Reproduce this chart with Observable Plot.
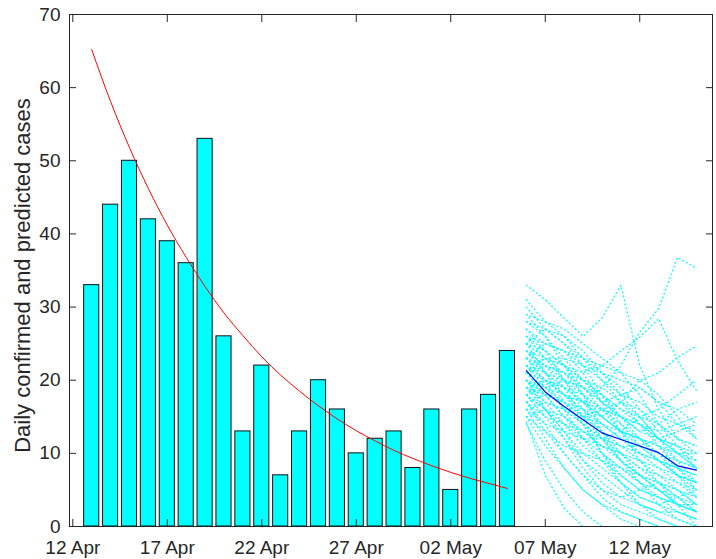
<!DOCTYPE html>
<html>
<head>
<meta charset="utf-8">
<script src="https://cdn.jsdelivr.net/npm/d3@7"></script>
<script src="https://cdn.jsdelivr.net/npm/@observablehq/plot@0.6"></script>
<style>
  html, body { margin: 0; padding: 0; background: white; }
  #chart { width: 716px; height: 559px; }
</style>
</head>
<body>
<div id="chart"></div>
<script>
// ---- data (days counted from 12 Apr) ----
const barDays = [1,2,3,4,5,6,7,8,9,10,11,12,13,14,15,16,17,18,19,20,21,22,23];
const confirmed = [33,44,50,42,39,36,53,26,13,22,7,13,20,16,10,12,13,8,16,5,16,18,24];
const fitted = [65.2,58.1,51.8,46.2,41.2,36.8,32.8,29.2,26.1,23.2,20.7,18.5,16.5,14.7,13.1,11.7,10.4,9.3,8.3,7.4,6.6,5.9,5.2];
const predDays = [24,25,26,27,28,29,30,31,32,33];
const predMean = [21.3,18.4,16.4,14.6,12.8,11.9,11.0,10.1,8.3,7.7];
const simRuns = [
  [33,31,28.5,26,28.5,33,22,16,12,10],
  [22,20,18,17,19,22,26.6,29.8,36.8,35.3],
  [26,24,22,21,22,24,25.9,28.4,22.7,18.6],
  [19,18,17,16,15,17,20,21,23.1,24.7],
  [14.3,7,2.5,0,0,0,0,0,0,0],
  [30,27,25,23,21,19,16,13,10,8],
  [28,26,23,20,17,15,13,12,10,9],
  [25,23,21,18,16,14,12,10,7,5],
  [24,22,20,19,18,16,15,14,12,11],
  [23,21,20,18,15,13,10,8,6,4],
  [22,19,17,15,13,11,9,7,5,3],
  [21,19,16,14,12,10,8,6,4,2],
  [20,18,15,12,10,8,6,4,2,1],
  [18,15,12,9,7,5,3,2,1,0],
  [17,13,10,7,5,3,2,1,0,0],
  [16,12,8,5,3,2,1,0,0,0],
  [19,17,16,15,14,13,12,11,9,8],
  [27,25,24,22,20,18,17,15,14,13],
  [20,19,18,17,16,15,14,12,11,10],
  [24,21,18,15,12,9,7,5,3,2],
  [22,21,19,18,16,15,14,13,14,15],
  [18,16,14,13,12,11,11,12,13,14],
  [26,23,20,17,15,13,12,11,10,10],
  [15,13,11,10,9,8,7,6,5,4],
  [21,18,15,13,11,10,9,8,7,6],
  [29,26,22,19,16,13,11,9,7,6],
  [17,15,14,12,11,10,8,7,6,5],
  [23,22,21,20,18,16,14,12,10,8],
  [20,17,14,11,9,7,5,4,3,3],
  [25,24,22,20,19,17,16,14,12,11],
  [19,16,13,10,8,6,4,3,2,1],
  [22,20,19,17,15,13,12,10,8,6],
  [16,14,13,12,12,11,10,9,8,7],
  [24,22,19,17,14,12,10,9,7,6],
  [21,20,18,16,14,12,11,10,9,8],
  [14,9,5,2,0,0,0,0,0,0],
  [15,11,8,5,3,1,0,0,0,0],
  [17,14,10,7,4,2,1,0,0,0],
  [18,16,13,9,6,4,3,2,2,1],
  [20,16,12,8,5,4,5,6,4,2],
  [23,20,16,12,9,6,4,3,4,5],
  [25,21,17,14,10,8,6,5,3,2],
  [27,24,20,16,12,9,7,6,5,3],
  [31,28,26,23,20,17,14,11,8,5],
  [29,28,27,25,23,21,18,14,11,8],
  [26,25,24,23,22,21,20,18,15,12],
  [24,23,23,22,21,20,19,17,16,14],
  [21,22,21,19,17,18,19,17,14,12],
  [18,19,20,19,17,15,13,14,16,17],
  [16,17,16,14,12,13,15,16,18,20],
  [20,18,17,15,16,17,15,12,9,6],
  [22,23,22,20,18,15,12,9,7,4],
  [19,20,18,16,13,10,7,5,3,2],
  [17,18,17,14,10,7,5,4,3,2],
  [15,16,15,13,11,9,7,5,4,3],
  [28,27,25,22,18,14,11,9,8,7],
  [25,27,26,24,21,18,15,12,11,9],
  [23,25,24,21,17,13,9,6,3,0],
  [21,23,22,18,13,9,6,3,1,0],
  [18,20,19,15,10,6,3,1,0,0]
];
const tickDays = [0,5,10,15,20,25,30];
const tickLabels = ["12 Apr","17 Apr","22 Apr","27 Apr","02 May","07 May","12 May"];
const yTicks = [0,10,20,30,40,50,60,70];
const yLabel = "Daily confirmed and predicted cases";

// ---- tables ----
const bars = barDays.map((d, i) => ({day: d, value: confirmed[i]}));
const fit = barDays.map((d, i) => ({day: d, value: fitted[i]}));
const mean = predDays.map((d, i) => ({day: d, value: predMean[i]}));
const sims = simRuns.flatMap((run, r) => run.map((v, i) => ({run: r, day: predDays[i], value: v})));

const barWidth = 0.8;
const axisColor = "#262626";
const font = "'Liberation Sans', Arial, Helvetica, sans-serif";

const chart = Plot.plot({
  width: 716,
  height: 559,
  marginLeft: 69,
  marginRight: 4,
  marginTop: 14,
  marginBottom: 33,
  x: {domain: [-0.175, 33.85]},
  y: {domain: [0, 70]},
  style: {fontFamily: font, fontSize: "19px", color: axisColor, background: "white"},
  marks: [
    Plot.rectY(bars, {
      x1: d => d.day - barWidth / 2,
      x2: d => d.day + barWidth / 2,
      y1: 0, y2: "value",
      fill: "#00ffff", stroke: "#111", strokeWidth: 1
    }),
    Plot.line(fit, {x: "day", y: "value", stroke: "#ff0000", strokeWidth: 1, curve: "monotone-x"}),
    Plot.line(sims, {x: "day", y: "value", z: "run", stroke: "#00ffff", strokeWidth: 1.2,
      strokeDasharray: "1.1,3"}),
    Plot.line(mean, {x: "day", y: "value", stroke: "#0000ff", strokeWidth: 1.2}),
    Plot.frame({stroke: axisColor}),
    Plot.axisX({anchor: "bottom", ticks: tickDays, tickSize: 0, tickPadding: 14,
      tickFormat: d => tickLabels[tickDays.indexOf(d)], label: null, fontSize: 19}),
    Plot.axisX({anchor: "bottom", ticks: tickDays, tickSize: -7, tickFormat: () => "", label: null, stroke: axisColor}),
    Plot.axisX({anchor: "top", ticks: tickDays, tickSize: -7, tickFormat: () => "", label: null, stroke: axisColor}),
    Plot.axisY({anchor: "left", ticks: yTicks, tickSize: 0, tickPadding: 9, label: null, fontSize: 19}),
    Plot.axisY({anchor: "left", ticks: yTicks, tickSize: -7, tickFormat: () => "", label: null, stroke: axisColor}),
    Plot.axisY({anchor: "right", ticks: yTicks, tickSize: -7, tickFormat: () => "", label: null, stroke: axisColor}),
    Plot.text([yLabel], {
      text: d => d, frameAnchor: "left", rotate: -90, dx: -40, dy: 5,
      lineAnchor: "bottom", textAnchor: "middle", fontSize: 22, fill: axisColor
    })
  ]
});
document.getElementById("chart").appendChild(chart);
</script>
</body>
</html>
